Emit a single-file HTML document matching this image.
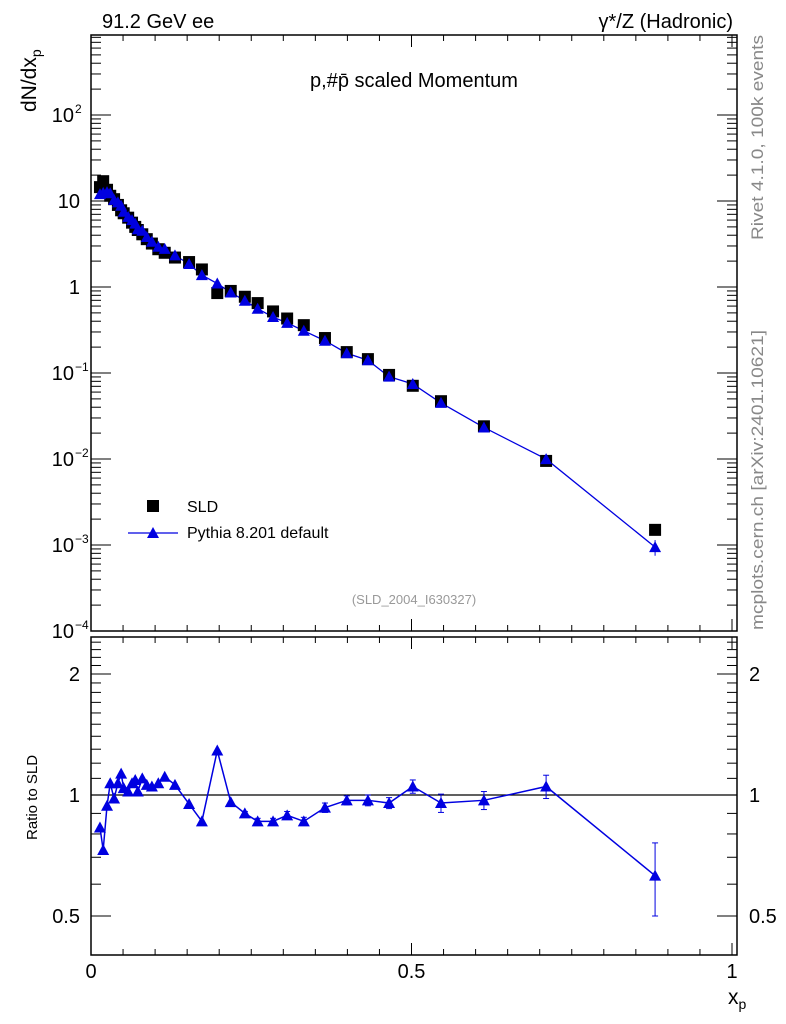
<!DOCTYPE html>
<html><head><meta charset="utf-8"><style>
body{margin:0;background:#fff;}
svg{display:block;font-family:"Liberation Sans",sans-serif;}
</style></head><body>
<svg id="c" width="786" height="1024"></svg>
<script>
const xs=[0.014,0.019,0.025,0.030,0.036,0.042,0.047,0.051,0.058,0.064,0.069,0.073,0.080,0.087,0.095,0.105,0.115,0.131,0.153,0.173,0.197,0.218,0.240,0.260,0.284,0.306,0.332,0.365,0.399,0.432,0.465,0.502,0.546,0.613,0.710,0.880];
const sld=[14.5,17,13.5,11.5,10.5,9,7.8,7.2,6.4,5.6,5.0,4.6,4.1,3.6,3.2,2.75,2.5,2.2,1.95,1.6,0.85,0.9,0.77,0.65,0.52,0.43,0.36,0.255,0.175,0.145,0.095,0.071,0.047,0.024,0.0095,0.0015];
const ratio=[0.83,0.73,0.94,1.07,0.98,1.07,1.13,1.04,1.02,1.07,1.09,1.02,1.10,1.06,1.05,1.07,1.11,1.06,0.95,0.86,1.29,0.96,0.90,0.86,0.86,0.89,0.86,0.93,0.97,0.97,0.955,1.05,0.955,0.97,1.05,0.63];
const rerr=[0,0,0,0,0,0,0,0,0,0,0,0,0,0,0,0,0,0,0,0,0,0,0.01,0.015,0.015,0.02,0.02,0.025,0.025,0.03,0.03,0.04,0.05,0.05,0.07,0.13];
const NS="http://www.w3.org/2000/svg",svg=document.getElementById('c');
function el(t,a,txt,p){const e=document.createElementNS(NS,t);for(const k in a)e.setAttribute(k,a[k]);if(txt!=null)e.textContent=txt;(p||svg).appendChild(e);return e;}
const L=91,R=737,X=v=>L+v*641;
const T=35,B=631,Y=v=>287-Math.log10(v)*86;
const RT=637,RB=955,YR=v=>795-Math.log2(v)*121;
let f=el('rect',{x:L,y:T,width:R-L,height:B-T,fill:'none',stroke:'#000','stroke-width':1.5});

f=el('rect',{x:L,y:RT,width:R-L,height:RB-RT,fill:'none',stroke:'#000','stroke-width':1.5});

for(let i=0;i<=20;i++){const v=i*0.05,x=X(v);if(x>R)continue;const len=i%10==0?12:6;
 for(const [t,b] of [[T,B],[RT,RB]]){el('line',{x1:x,y1:b,x2:x,y2:b-len,stroke:'#000'});el('line',{x1:x,y1:t,x2:x,y2:t+len,stroke:'#000'});}}
const xl=['0','0.5','1'];
[0,0.5,1].forEach((v,i)=>{const t=el('text',{x:X(v),y:978,'font-size':20,'text-anchor':'middle'},xl[i]);});
let t=el('text',{x:728,y:1004,'font-size':21},'x');
el('tspan',{'font-size':14,dy:5},'p',t);
for(let d=-4;d<=2;d++){for(let m=1;m<10;m++){const v=m*Math.pow(10,d),y=Y(v);if(y<T||y>B)continue;const len=m==1?20:10;
 el('line',{x1:L,y1:y,x2:L+len,y2:y,stroke:'#000'});el('line',{x1:R,y1:y,x2:R-len,y2:y,stroke:'#000'});}}
const ylab=[[-4,'10','−4'],[-3,'10','−3'],[-2,'10','−2'],[-1,'10','−1'],[0,'1',''],[1,'10',''],[2,'10','2']];
ylab.forEach(a=>{const y=Y(Math.pow(10,a[0]))+7;const tx=el('text',{x:a[2]?74:80,y:y,'font-size':20,'text-anchor':'end'},a[1]);
 if(a[2]){el('text',{x:75,y:y-9,'font-size':12},a[2]);}});
t=el('text',{x:0,y:0,'font-size':21,transform:'translate(36,112) rotate(-90)'},'dN/dx');
el('tspan',{'font-size':14,dy:5},'p',t);
[0.5,0.6,0.7,0.8,0.9,1,2].forEach(v=>{const y=YR(v),len=(v==0.5||v==1||v==2)?20:10;el('line',{x1:L,y1:y,x2:L+len,y2:y,stroke:'#000'});el('line',{x1:R,y1:y,x2:R-len,y2:y,stroke:'#000'});});
for(let v=1.1;v<2.5;v+=0.1){if(Math.abs(v-2)<0.01)continue;const y=YR(v);if(y<RT)break;el('line',{x1:L,y1:y,x2:L+10,y2:y,stroke:'#000'});el('line',{x1:R,y1:y,x2:R-10,y2:y,stroke:'#000'});}
[[2,'2'],[1,'1'],[0.5,'0.5']].forEach(a=>{const y=YR(a[0])+7;let tx=el('text',{x:80,y:y,'font-size':20,'text-anchor':'end'},a[1]);
 el('text',{x:749,y:y,'font-size':20},a[1]);});
t=el('text',{x:0,y:0,'font-size':15,transform:'translate(37,840) rotate(-90)'},'Ratio to SLD');
el('line',{x1:L,y1:YR(1),x2:R,y2:YR(1),stroke:'#000','stroke-width':1.2});
const mc=sld.map((v,i)=>v*ratio[i]);
let pl=el('polyline',{points:xs.map((x,i)=>X(x)+','+Y(mc[i])).join(' '),fill:'none',stroke:'#0000e0','stroke-width':1.3});

xs.forEach((x,i)=>{const r=el('rect',{x:X(x)-6,y:Y(sld[i])-6,width:12,height:12,fill:'#000'});});
function tri(cx,cy,name){const p=el('polygon',{points:`${cx-6},${cy+5} ${cx+6},${cy+5} ${cx},${cy-6}`,fill:'#0000e0'});}
xs.forEach((x,i)=>{if(rerr[i]>0.05){const e=mc[i]*rerr[i]/ratio[i];el('line',{x1:X(x),y1:Y(mc[i]-e),x2:X(x),y2:Y(mc[i]+e),stroke:'#0000e0'});}tri(X(x),Y(mc[i]),'pythia-point');});
pl=el('polyline',{points:xs.map((x,i)=>X(x)+','+YR(ratio[i])).join(' '),fill:'none',stroke:'#0000e0','stroke-width':1.5});

xs.forEach((x,i)=>{if(rerr[i]>0){const x0=X(x),y1=YR(ratio[i]-rerr[i]),y2=YR(ratio[i]+rerr[i]);el('line',{x1:x0,y1:y1,x2:x0,y2:y2,stroke:'#0000e0'});el('line',{x1:x0-3,y1:y1,x2:x0+3,y2:y1,stroke:'#0000e0'});el('line',{x1:x0-3,y1:y2,x2:x0+3,y2:y2,stroke:'#0000e0'});}tri(X(x),YR(ratio[i]),'ratio-point');});
const texts=[[102,28,'91.2 GeV ee',20,'start','#000','header-left'],[733,28,'γ*/Z (Hadronic)',20,'end','#000','header-right'],[414,87,'p,#p̄ scaled Momentum',20,'middle','#000','plot-title'],[414,604,'(SLD_2004_I630327)',13,'middle','#999','analysis-id'],[187,512,'SLD',16,'start','#000','legend-sld'],[187,538,'Pythia 8.201 default',16,'start','#000','legend-pythia']];
texts.forEach(a=>{const tx=el('text',{x:a[0],y:a[1],'font-size':a[3],'text-anchor':a[4],fill:a[5]},a[2]);});
let r=el('rect',{x:147,y:500,width:12,height:12,fill:'#000'});
el('line',{x1:128,y1:533,x2:178,y2:533,stroke:'#0000e0','stroke-width':1.3});tri(153,533,'legend-pythia-marker');
t=el('text',{x:0,y:0,'font-size':17,fill:'#888',textLength:205,lengthAdjust:'spacingAndGlyphs',transform:'translate(763,240) rotate(-90)'},'Rivet 4.1.0,  100k events');
t=el('text',{x:0,y:0,'font-size':17,fill:'#888',textLength:300,lengthAdjust:'spacingAndGlyphs',transform:'translate(763,630) rotate(-90)'},'mcplots.cern.ch [arXiv:2401.10621]');
</script></body></html>
